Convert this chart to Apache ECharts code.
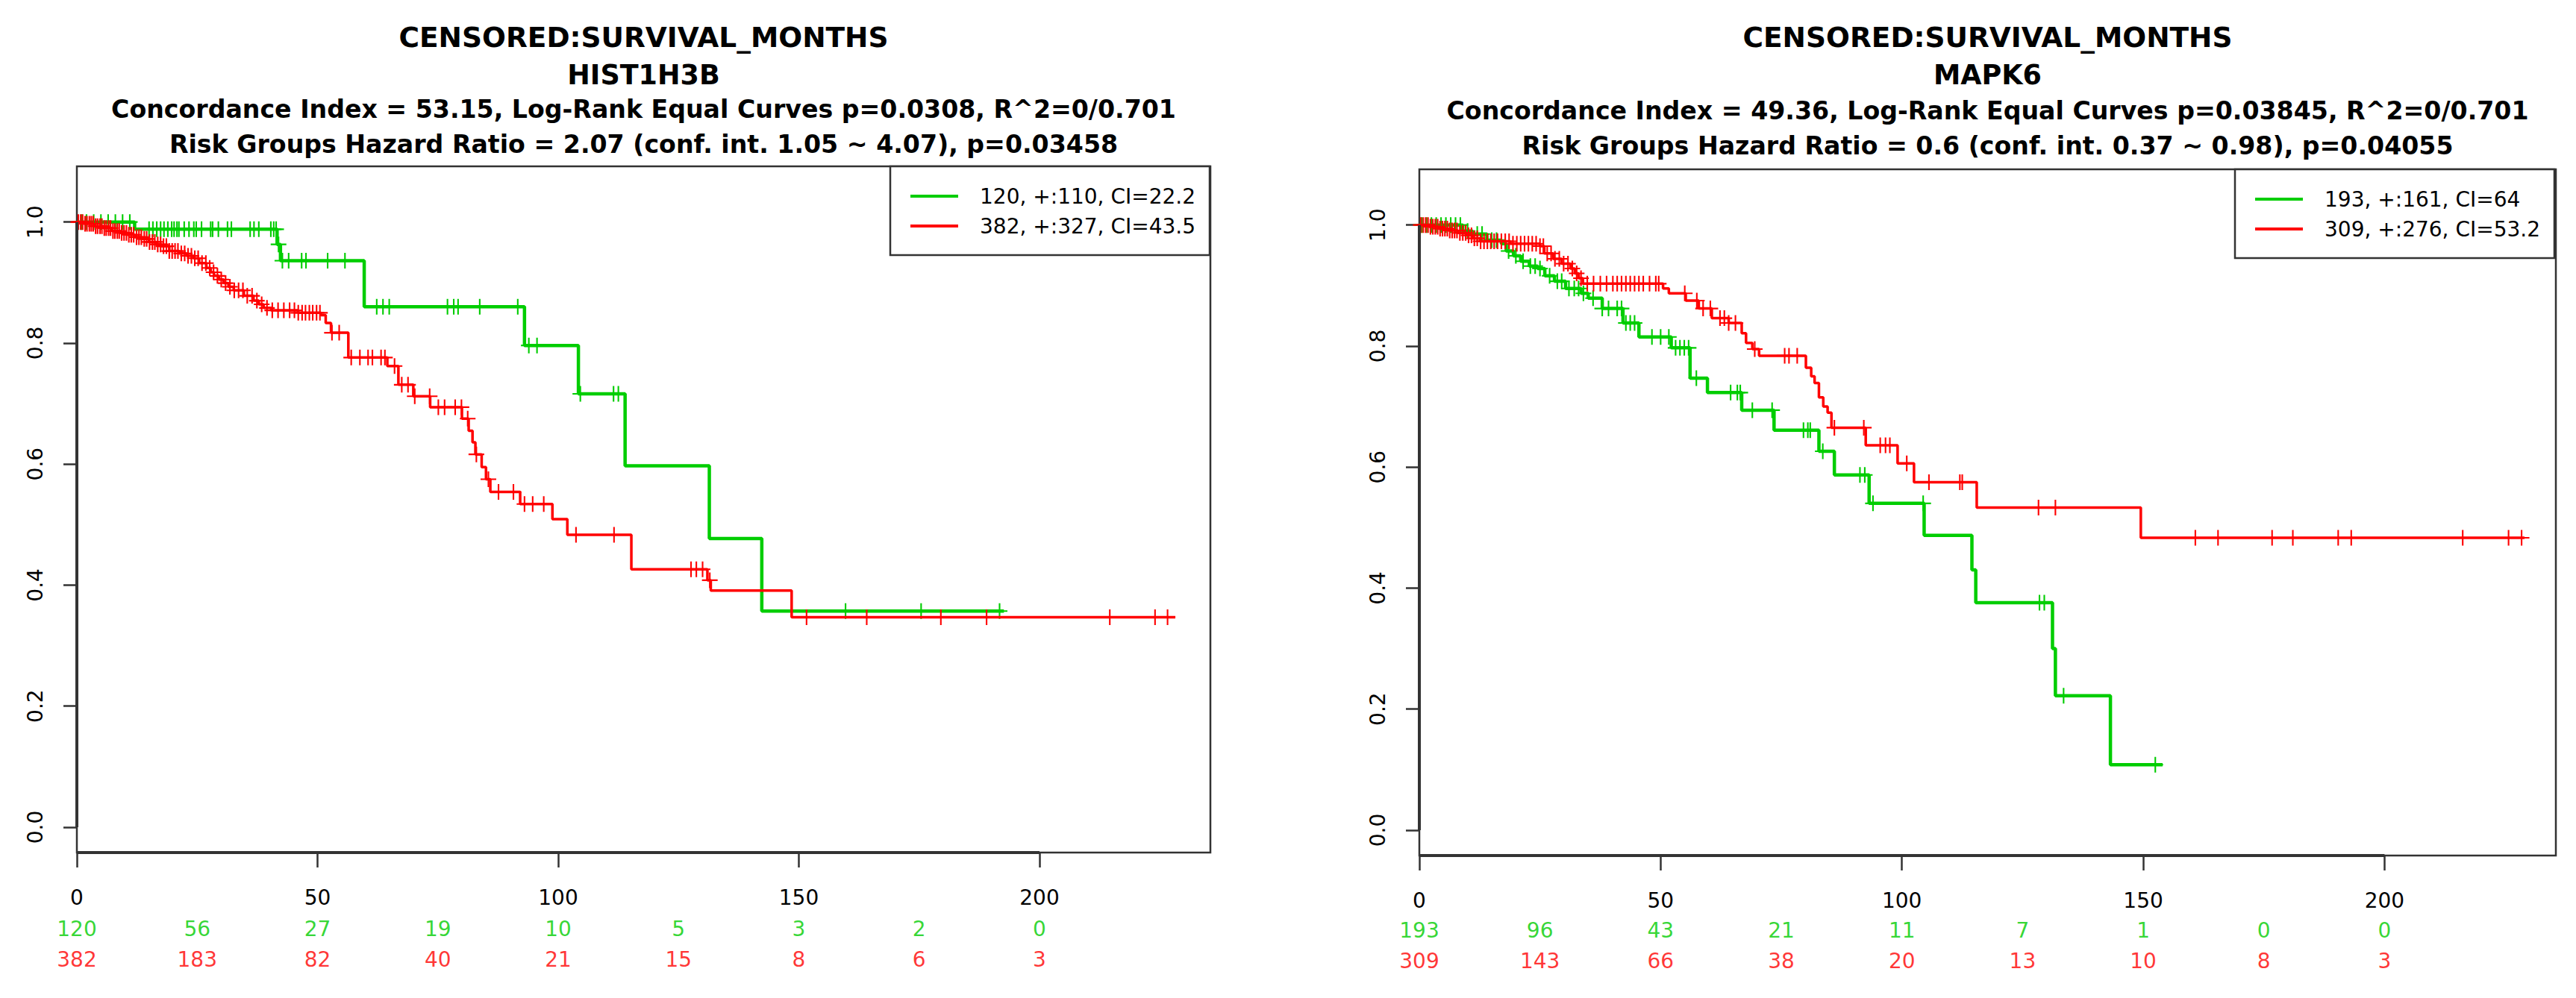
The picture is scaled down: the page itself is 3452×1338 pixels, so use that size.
<!DOCTYPE html>
<html><head><meta charset="utf-8">
<script src="https://cdn.jsdelivr.net/npm/echarts@6/dist/echarts.min.js"></script>
<style>html,body{margin:0;padding:0;background:#fff}#c{width:3452px;height:1338px}</style>
</head><body><div id="c"></div>
<script>
// ---------- shared ----------
const riskTimes = [0, 25, 50, 75, 100, 125, 150, 175, 200];
const xTicks = [0, 50, 100, 150, 200];
const yTicks = [0, 0.2, 0.4, 0.6, 0.8, 1.0];
const GREEN = '#00CD00', RED = '#FF0000';

// ---------- left panel: HIST1H3B ----------
const L_titles = ['CENSORED:SURVIVAL_MONTHS', 'HIST1H3B',
  'Concordance Index = 53.15, Log-Rank Equal Curves p=0.0308, R^2=0/0.701',
  'Risk Groups Hazard Ratio = 2.07 (conf. int. 1.05 ~ 4.07), p=0.03458'];
const L_greenName = '120, +:110, CI=22.2';
const L_redName = '382, +:327, CI=43.5';
const L_greenT = [0, 12, 41.6, 42.3, 59.7, 93, 104.2, 113.9, 131.4, 142.3];
const L_greenS = [1, 0.988, 0.963, 0.936, 0.860, 0.796, 0.716, 0.597, 0.477, 0.357];
const L_greenEnd = 192.6;
const L_greenCens = [1, 2, 3.5, 5, 6.5, 8, 9.5, 11, 15, 15.8, 16.6, 17.4, 18.1, 18.9, 19.7, 20.2, 20.8, 21.2, 22.3, 23.3, 24.3, 24.8, 25.9, 27.8, 28.2, 29.4, 31.3, 32.1, 36, 36.8, 37.8, 40.3, 40.9, 41.4, 41.9, 42.7, 44, 46.7, 47.6, 52.1, 55.7, 62.3, 63.6, 64.9, 77, 78.3, 79.2, 83.7, 91.6, 93.9, 95.6, 104.6, 111.5, 112.5, 159.7, 175.4, 191.7];
const L_redT = [0, 1.5, 3.5, 5.5, 7.3, 9, 10.5, 12, 13.5, 15, 16.5, 17.6, 19.2, 21.2, 22.8, 24.3, 25.4, 26.9, 27.8, 28.5, 29.5, 30.5, 31.5, 32.6, 34.7, 36.7, 37.8, 38.8, 40.4, 46, 50.7, 51.7, 52.8, 56.4, 64.5, 66.8, 69.9, 73.4, 80, 81.4, 82.2, 82.8, 84.1, 85, 85.9, 92.1, 98.8, 101.9, 115.2, 131, 131.7, 148.5];
const L_redS = [1, 0.997, 0.993, 0.990, 0.985, 0.982, 0.979, 0.975, 0.972, 0.967, 0.963, 0.960, 0.952, 0.948, 0.944, 0.940, 0.932, 0.924, 0.917, 0.911, 0.905, 0.899, 0.893, 0.887, 0.878, 0.870, 0.864, 0.858, 0.854, 0.850, 0.846, 0.833, 0.817, 0.776, 0.762, 0.731, 0.712, 0.694, 0.675, 0.655, 0.636, 0.616, 0.595, 0.575, 0.554, 0.534, 0.509, 0.483, 0.426, 0.408, 0.391, 0.347];
const L_redEnd = 228.2;
const L_redCens = [0.3, 0.8, 1.2, 1.7, 2.1, 2.6, 3, 3.4, 3.9, 4.3, 4.8, 5.2, 5.7, 6.1, 6.6, 7, 7.5, 7.9, 8.4, 8.8, 9.3, 9.8, 10.3, 10.8, 11.3, 11.8, 12.4, 12.9, 13.4, 14, 14.5, 15.1, 15.7, 16.2, 16.8, 17.4, 18, 18.6, 19.2, 19.8, 20.4, 21, 21.7, 22.4, 23.1, 23.8, 24.5, 25.2, 26, 26.8, 27.6, 28.4, 29.2, 30, 30.9, 31.8, 32.7, 33.6, 34.5, 35.4, 36.4, 37.4, 38.4, 39.5, 40.6, 41.8, 43, 44.2, 45.2, 46, 46.8, 47.5, 48.3, 49, 49.8, 50.5, 53, 54.5, 57, 58.8, 60.5, 61.4, 63.2, 64, 66, 67.5, 68.8, 70.2, 73.3, 75.1, 76.4, 78.6, 79.9, 81.2, 83, 85.5, 87.6, 90.7, 93, 94.7, 97, 103.7, 111.6, 127.6, 128.7, 130, 131.5, 151.6, 164.1, 179.5, 189, 214.6, 224, 226.6];
const L_riskGreen = [120, 56, 27, 19, 10, 5, 3, 2, 0];
const L_riskRed = [382, 183, 82, 40, 21, 15, 8, 6, 3];

// ---------- right panel: MAPK6 ----------
const R_titles = ['CENSORED:SURVIVAL_MONTHS', 'MAPK6',
  'Concordance Index = 49.36, Log-Rank Equal Curves p=0.03845, R^2=0/0.701',
  'Risk Groups Hazard Ratio = 0.6 (conf. int. 0.37 ~ 0.98), p=0.04055'];
const R_greenName = '193, +:161, CI=64';
const R_redName = '309, +:276, CI=53.2';
const R_greenT = [0, 9, 11, 14, 17, 18, 19.5, 21, 22.8, 24.5, 26, 28, 30.3, 33.5, 35, 37.9, 42.2, 45.5, 52.2, 56.1, 59.7, 66.8, 73.5, 82.8, 86, 93.2, 104.6, 114.5, 115.3, 131.2, 131.8, 143.2];
const R_greenS = [1, 0.990, 0.985, 0.975, 0.969, 0.957, 0.949, 0.940, 0.932, 0.928, 0.916, 0.907, 0.895, 0.887, 0.879, 0.862, 0.838, 0.815, 0.797, 0.747, 0.723, 0.694, 0.661, 0.626, 0.587, 0.540, 0.487, 0.430, 0.376, 0.300, 0.222, 0.108];
const R_greenEnd = 154;
const R_greenCens = [0.5, 1.5, 2.5, 3.5, 4.5, 5.5, 6.5, 7.5, 8.5, 10, 12, 13, 15, 16, 18.5, 20, 21.5, 23, 24, 25, 27, 28.6, 29.5, 31, 32.1, 33, 34, 36, 37.9, 39.2, 41, 41.9, 42.8, 43.7, 44.6, 48.2, 50, 51.7, 53.1, 54, 54.9, 55.8, 57.4, 64.5, 65.9, 66.5, 69, 73.1, 79.6, 80.5, 81, 83.6, 91.3, 92.3, 94, 104.4, 128.5, 129.5, 133.5, 152.5];
const R_redT = [0, 2, 4, 6, 8, 9.9, 11, 12.6, 18.8, 25, 25.9, 27.7, 29.5, 31.3, 32.2, 33, 33.9, 50.5, 51.7, 55.2, 57.9, 60.6, 64.1, 66.8, 67.7, 69, 70.4, 80.1, 81.2, 81.9, 82.8, 83.7, 84.6, 85.4, 92.5, 99.1, 102.5, 115.5, 149.5];
const R_redS = [1, 0.997, 0.994, 0.991, 0.987, 0.983, 0.978, 0.973, 0.969, 0.965, 0.953, 0.944, 0.936, 0.928, 0.920, 0.912, 0.903, 0.895, 0.887, 0.875, 0.862, 0.846, 0.838, 0.821, 0.805, 0.795, 0.784, 0.764, 0.750, 0.739, 0.715, 0.700, 0.690, 0.665, 0.636, 0.606, 0.575, 0.533, 0.483];
const R_redEnd = 229;
const R_redCens = [0.3, 0.8, 1.3, 1.8, 2.3, 2.8, 3.3, 3.8, 4.3, 4.8, 5.3, 5.8, 6.3, 6.8, 7.3, 7.8, 8.4, 9, 9.6, 10.2, 10.8, 11.4, 12, 12.7, 13.4, 14.1, 14.8, 15.5, 16.2, 17, 17.8, 18.6, 19.4, 20.2, 21, 21.8, 22.6, 23.4, 24.2, 25, 25.7, 26.5, 27.3, 28.1, 29, 29.9, 30.8, 31.7, 32.6, 33.5, 34.8, 36.1, 37.5, 38.8, 40.1, 41, 41.9, 42.8, 43.7, 44.6, 45.5, 46.4, 47.7, 49, 49.6, 55, 57.5, 58.8, 60.3, 62.3, 63.2, 64.1, 65.5, 69.5, 75.7, 76.6, 78.3, 86, 92.1, 95.5, 96.6, 97.5, 101, 105.6, 112, 112.5, 128.3, 131.8, 160.8, 165.5, 176.7, 181, 190.4, 193.1, 216.2, 225.7, 228.4];
const R_riskGreen = [193, 96, 43, 21, 11, 7, 1, 0, 0];
const R_riskRed = [309, 143, 66, 38, 20, 13, 10, 8, 3];

// ---------- helpers ----------
function stepLine(T, S, end) { const d = T.map((t, i) => [t, S[i]]); d.push([end, S[S.length - 1]]); return d; }
function survAt(T, S, t) { let v = S[0]; for (let i = 0; i < T.length; i++) { if (T[i] <= t) v = S[i]; else break; } return v; }
function censPts(T, S, C) { return C.map(t => [t, survAt(T, S, t)]); }

const FONT = 'DejaVu Sans';
const FRAME = '#333';
const PLUS = 'path://M9,0H11V9H20V11H11V20H9V11H0V9H9Z';
const titleSizes = [37.5, 36.5, 33.2, 33.2];
const X_MAX = 235.5, Y_MIN = -0.042, Y_MAX = 1.092;

const panels = [
  { titles: L_titles, gName: L_greenName, rName: L_redName,
    gT: L_greenT, gS: L_greenS, gEnd: L_greenEnd, gC: L_greenCens,
    rT: L_redT, rS: L_redS, rEnd: L_redEnd, rC: L_redCens,
    riskG: L_riskGreen, riskR: L_riskRed,
    left: 103, top: 223, width: 1519, height: 920, titleY: [50, 100, 146, 193], riskTop: 1225, legendLeft: 1193 },
  { titles: R_titles, gName: R_greenName, rName: R_redName,
    gT: R_greenT, gS: R_greenS, gEnd: R_greenEnd, gC: R_greenCens,
    rT: R_redT, rS: R_redS, rEnd: R_redEnd, rC: R_redCens,
    riskG: R_riskGreen, riskR: R_riskRed,
    left: 1902, top: 227, width: 1523, height: 920, titleY: [50, 100, 148, 195], riskTop: 1227, legendLeft: 2995 }
];
const N = panels.length;
const grid = [], xAxis = [], yAxis = [], series = [], legend = [], graphic = [];

// plot grids: indices 0..N-1
panels.forEach((p, i) => {
  grid.push({ left: p.left, top: p.top, width: p.width, height: p.height, show: true,
    borderColor: FRAME, borderWidth: 2.5, backgroundColor: 'transparent' });
  xAxis.push({ type: 'value', gridIndex: i, min: 0, max: X_MAX, position: 'bottom',
    axisLine: { show: false, onZero: false }, splitLine: { show: false },
    axisTick: { show: true, inside: false, length: 20, lineStyle: { color: FRAME, width: 2.5 }, customValues: xTicks },
    axisLabel: { customValues: xTicks, fontSize: 28, fontFamily: FONT, color: '#000', margin: 46 } });
  yAxis.push({ type: 'value', gridIndex: i, min: Y_MIN, max: Y_MAX, position: 'left',
    axisLine: { show: false, onZero: false }, splitLine: { show: false },
    axisTick: { show: true, inside: false, length: 18, lineStyle: { color: FRAME, width: 2.5 }, customValues: yTicks },
    axisLabel: { customValues: yTicks, rotate: 90, margin: 42, fontSize: 28, fontFamily: FONT, color: '#000',
      formatter: v => v.toFixed(1) } });
  p.titles.forEach((t, k) => graphic.push({ type: 'text', x: p.left + p.width / 2, y: p.titleY[k],
    style: { text: t, fontFamily: FONT, fontWeight: 'bold', fontSize: titleSizes[k], fill: '#000', align: 'center', verticalAlign: 'middle' } }));
  legend.push({ data: [{ name: p.gName }, { name: p.rName }], orient: 'vertical',
    left: p.legendLeft, top: p.top, padding: [24, 19, 23, 27], itemGap: 8, itemWidth: 64, itemHeight: 4,
    icon: 'rect', selectedMode: false, borderColor: FRAME, borderWidth: 2.5, backgroundColor: '#fff',
    textStyle: { fontFamily: FONT, fontSize: 28, color: '#000', lineHeight: 32, padding: [0, 0, 0, 24] } });
  const base = { xAxisIndex: i, yAxisIndex: i, animation: false };
  series.push(Object.assign({ type: 'line', name: p.gName, step: 'end', data: stepLine(p.gT, p.gS, p.gEnd),
    showSymbol: false, symbol: 'none', color: GREEN, lineStyle: { color: GREEN, width: 4.5 }, z: 2,
    // R-style axis lines spanning first..last tick, drawn over the frame
    markLine: { silent: true, symbol: ['none', 'none'], label: { show: false }, animation: false,
      lineStyle: { color: FRAME, width: 4, type: 'solid' },
      data: [[{ coord: [xTicks[0], Y_MIN] }, { coord: [xTicks[xTicks.length - 1], Y_MIN] }],
             [{ coord: [0, yTicks[0]] }, { coord: [0, yTicks[yTicks.length - 1]] }]] } }, base));
  series.push(Object.assign({ type: 'scatter', name: 'gc' + i, data: censPts(p.gT, p.gS, p.gC),
    symbol: PLUS, symbolSize: 21, itemStyle: { color: GREEN, opacity: 1 }, z: 2 }, base));
  series.push(Object.assign({ type: 'line', name: p.rName, step: 'end', data: stepLine(p.rT, p.rS, p.rEnd),
    showSymbol: false, symbol: 'none', color: RED, lineStyle: { color: RED, width: 3.5 }, z: 3 }, base));
  series.push(Object.assign({ type: 'scatter', name: 'rc' + i, data: censPts(p.rT, p.rS, p.rC),
    symbol: PLUS, symbolSize: 21, itemStyle: { color: RED, opacity: 1 }, z: 3 }, base));
});

// risk-table grids: indices N..2N-1
panels.forEach((p, i) => {
  const gi = N + i;
  grid.push({ left: p.left, top: p.riskTop, width: p.width, height: 82 });
  xAxis.push({ type: 'value', gridIndex: gi, min: 0, max: X_MAX, show: false });
  yAxis.push({ type: 'category', gridIndex: gi, data: ['green', 'red'], inverse: true, show: false });
  [[p.riskG, GREEN, 0], [p.riskR, RED, 1]].forEach(([vals, col, row]) => {
    series.push({ type: 'scatter', xAxisIndex: gi, yAxisIndex: gi, animation: false, silent: true,
      name: 'risk' + i + row, symbolSize: 1, itemStyle: { color: 'rgba(0,0,0,0)' },
      data: riskTimes.map((t, k) => [t, row, vals[k]]),
      label: { show: true, position: 'inside', formatter: q => String(q.value[2]),
        fontFamily: FONT, fontSize: 28, color: col } });
  });
});

const chart = echarts.init(document.getElementById('c'), null, { renderer: 'svg', width: 3452, height: 1338 });
chart.setOption({ backgroundColor: '#fff', animation: false, grid, xAxis, yAxis, series, legend, graphic });
</script></body></html>
